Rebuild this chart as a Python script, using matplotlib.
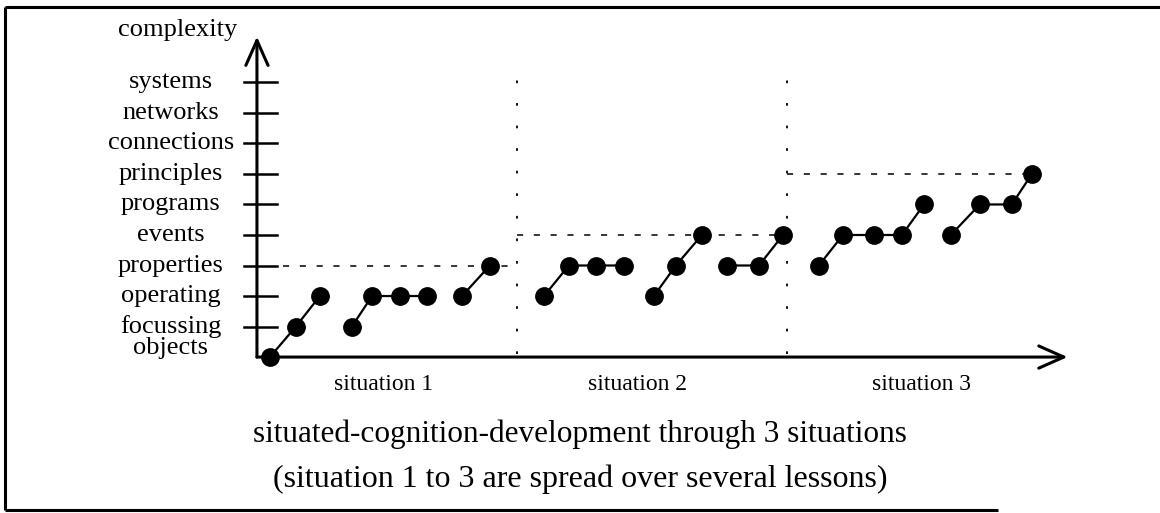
import matplotlib
matplotlib.use("Agg")
import matplotlib.pyplot as plt
from matplotlib.patches import FancyArrowPatch

plt.rcParams["font.family"] = ["Liberation Serif", "DejaVu Serif"]

# complexity levels, bottom to top
LEVELS = ["objects", "focussing", "operating", "properties", "events",
          "programs", "principles", "connections", "networks", "systems"]

# each run of connected dots: (step positions, level index)
RUNS_X = [
    [0.0, 0.94, 1.81],
    [2.97, 3.70, 4.71, 5.69],
    [6.96, 7.97],
    [9.93, 10.83, 11.81, 12.83],
    [13.91, 14.71, 15.65],
    [16.56, 17.72, 18.59],
    [19.89, 20.76, 21.88, 22.90, 23.70],
    [24.67, 25.72, 26.88, 27.61],
]
RUNS_Y = [
    [0, 1, 2],
    [1, 2, 2, 2],
    [2, 3],
    [2, 3, 3, 3],
    [2, 3, 4],
    [3, 3, 4],
    [3, 4, 4, 4, 5],
    [4, 5, 5, 6],
]

SITUATIONS = ["situation 1", "situation 2", "situation 3"]
SITUATION_CENTERS = [4.13, 13.33, 23.6]
SITUATION_BOUNDS = [(0.47, 8.95), (8.95, 18.73), (18.73, 27.8)]
SITUATION_MAX = [3, 4, 6]
DIVIDERS = [8.95, 18.73]

TITLE_1 = "situated-cognition-development through 3 situations"
TITLE_2 = "(situation 1 to 3 are spread over several lessons)"

fig = plt.figure(figsize=(11.6, 5.13), dpi=100)
ax = fig.add_axes([0, 0, 1, 1])
ax.set_xlim(-9.78, 32.25)
ax.set_ylim(-5.11, 11.70)
ax.axis("off")

# outer frame (no right side, as in the scan)
frame_kw = dict(color="black", lw=2.2, transform=ax.transAxes, solid_capstyle="butt")
ax.plot([0.0043, 0.0043], [0.006, 0.986], **frame_kw)
ax.plot([0.0043, 1.0], [0.986, 0.986], **frame_kw)
ax.plot([0.0043, 0.86], [0.006, 0.006], **frame_kw)

# axes with arrows
axis_x0 = -0.47
arrow_kw = dict(arrowstyle="->,head_length=0.9,head_width=0.4",
                mutation_scale=20, lw=2.2, color="black", shrinkA=0, shrinkB=0)
ax.add_patch(FancyArrowPatch((axis_x0, 0), (axis_x0, 10.5), **arrow_kw))
ax.add_patch(FancyArrowPatch((axis_x0, 0), (28.9, 0), **arrow_kw))

# level ticks and labels
for i, name in enumerate(LEVELS):
    if i > 0:
        ax.plot([-0.94, 0.25], [i, i], color="black", lw=1.8)
    ax.text(-3.59, i + (0.3 if i == 0 else 0), name, ha="center", va="center",
            fontsize=19)
ax.text(-3.33, 10.72, "complexity", ha="center", va="center", fontsize=19)

# dotted dividers between situations
for xd in DIVIDERS:
    ax.plot([xd, xd], [0.1, 9.4], color="black", lw=1.3, linestyle=(0, (1.5, 11)))

# dashed line for the highest level reached in each situation
for (x0, x1), lvl in zip(SITUATION_BOUNDS, SITUATION_MAX):
    ax.plot([x0, x1], [lvl, lvl], color="black", lw=1.1, linestyle=(0, (4, 7)))

# connected dots
for xs, ys in zip(RUNS_X, RUNS_Y):
    ax.plot(xs, ys, color="black", lw=1.6, marker="o", markersize=12.5,
            markerfacecolor="black", markeredgecolor="black")

# situation labels
for name, xc in zip(SITUATIONS, SITUATION_CENTERS):
    ax.text(xc, -1.08, name, ha="center", va="baseline", fontsize=17)

ax.text(11.23, -2.79, TITLE_1, ha="center", va="baseline", fontsize=22.5)
ax.text(11.23, -4.26, TITLE_2, ha="center", va="baseline", fontsize=23)

fig.savefig("out.png", dpi=100)
